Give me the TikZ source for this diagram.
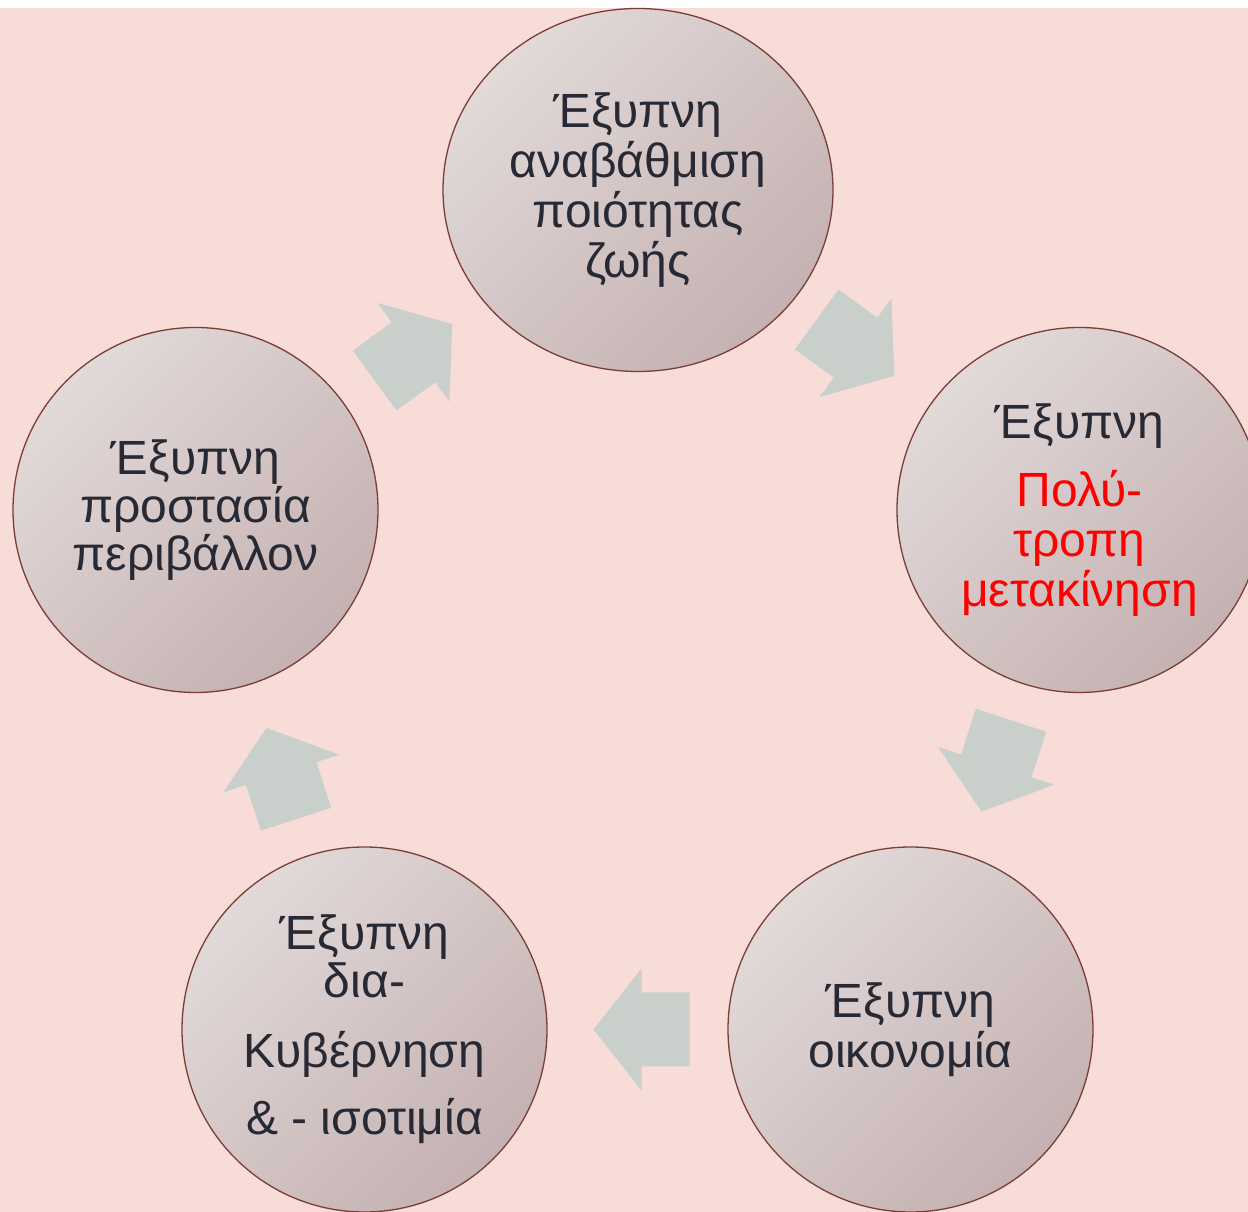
\documentclass[tikz,border=0pt]{standalone}
\usepackage{fontspec}
\setmainfont{Liberation Sans}
\usepackage{xcolor}
\usetikzlibrary{calc,shapes.geometric}

\definecolor{bgpink}{HTML}{F7DCD7}
\definecolor{circlight}{HTML}{E2D9D9}
\definecolor{circdark}{HTML}{C5B1B1}
\definecolor{circedge}{HTML}{7A3E36}
\definecolor{arrowgrey}{HTML}{C9D0CB}
\definecolor{textdark}{HTML}{272935}

% block arrow half way between two stages
\newcommand{\cyclearrow}[3]{%
  \begin{scope}[shift={($(#1)!0.5!(#2)$)}, rotate=#3]
    \fill[arrowgrey] (-52,-37) -- (-4,-37) -- (-4,-61) -- (44,0) -- (-4,61) -- (-4,37) -- (-52,37) -- cycle;
  \end{scope}}

\begin{document}
\begin{tikzpicture}[
  x=1pt, y=1pt,
  stage/.style={circle, draw=circedge, line width=1.3pt, top color=circlight, bottom color=circdark, shading angle=45,
    minimum size=365pt, inner sep=0pt, align=center, text=textdark, font=\fontsize{48}{50}\selectfont}
]

% Page and background
\clip (0,0) rectangle (1248,1212);
\fill[white] (0,0) rectangle (1248,1212);
\fill[bgpink] (0,0) rectangle (1248,1204);

% Top: quality of life
\node[stage, ellipse, minimum width=390pt, minimum height=363pt] (life) at (638,1022) {Έξυπνη\\αναβάθμιση\\ποιότητας\\ζωής};

% Right: mobility
\node[stage] (mobility) at (1079.5,702) {Έξυπνη\\[18pt]\textcolor{red}{Πολύ-}\\\textcolor{red}{τροπη}\\\textcolor{red}{μετακίνηση}};

% Bottom right: economy
\node[stage] (economy) at (910.5,182.5) {Έξυπνη\\οικονομία};

% Bottom left: governance
\node[stage] (governance) at (364.5,182.5) {Έξυπνη\\[-2pt]δια-\\[20pt]Κυβέρνηση\\[17pt]\& - ισοτιμία};

% Left: environment
\node[stage] (environment) at (195.5,702) {Έξυπνη\\[-2pt]προστασία\\[-2pt]περιβάλλον};

% Cycle arrows
\cyclearrow{life}{mobility}{-36}
\cyclearrow{mobility}{economy}{-108}
\cyclearrow{economy}{governance}{180}
\cyclearrow{governance}{environment}{108}
\cyclearrow{environment}{life}{36}

\end{tikzpicture}
\end{document}
